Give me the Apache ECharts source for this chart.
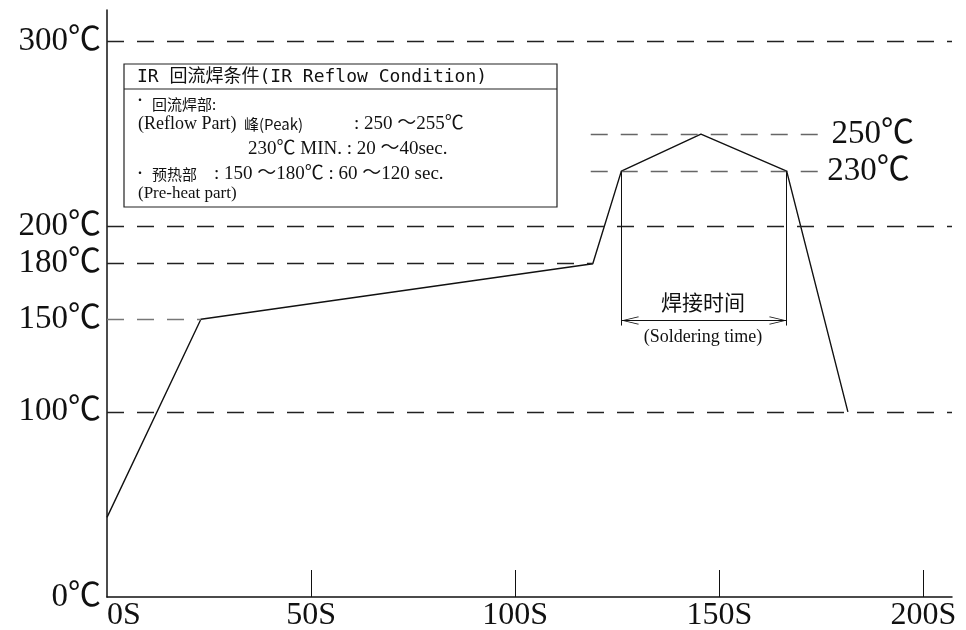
<!DOCTYPE html>
<html>
<head>
<meta charset="utf-8">
<style>
  html, body { margin: 0; padding: 0; background: #fff; }
  #chart { width: 966px; height: 630px; }
</style>
<script src="https://cdn.jsdelivr.net/npm/echarts@6.0.0/dist/echarts.min.js"></script>
</head>
<body>
<div id="chart"></div>
<script>
  // 回流焊温度曲线：时间(s) / 温度(℃)
  const timeS = [0, 23, 119, 126, 145.5, 166.5, 181.5];
  const tempC = [43, 150, 180, 230, 250, 230, 100];

  // 坐标轴刻度
  const yLabels = [0, 100, 150, 180, 200, 300];
  const xLabels = [0, 50, 100, 150, 200];
  const xTicks = [50, 100, 150, 200];

  // 左侧虚线：温度 / 起止时间
  const guideTemps = [300, 200, 180, 150, 100];
  const guideFrom = [0, 0, 0, 0, 0];
  const guideTo = [207, 207, 119, 23, 207];

  // 峰值区虚线（右侧标注）
  const peakTemps = [250, 230];
  const peakFrom = [118.5, 118.5];
  const peakTo = [176, 175];

  // 焊接时间区间
  const solderStart = 126;
  const solderEnd = 166.5;
  const solderTop = 230;
  const solderBottom = 146.6;
  const solderArrow = 149.3;
  const solderLabelTime = 146;
  const solderLabelTemps = [159.3, 140];

  const serif = "'Liberation Serif', 'Noto Sans CJK SC', serif";
  const cjk = "'Noto Sans CJK SC', sans-serif";
  const mono = "'DejaVu Sans Mono', 'Noto Sans CJK SC', monospace";

  const chart = echarts.init(document.getElementById('chart'));

  const markLines = [];
  guideTemps.forEach((t, i) => {
    markLines.push([
      { coord: [guideFrom[i], t], lineStyle: { color: t === 150 ? '#777' : '#222' } },
      { coord: [guideTo[i], t] }
    ]);
  });
  peakTemps.forEach((t, i) => {
    markLines.push([
      {
        coord: [peakFrom[i], t],
        lineStyle: { color: '#666' },
        label: {
          show: true, position: 'end', distance: 6,
          formatter: t + '℃', fontSize: 33, fontFamily: serif, color: '#111'
        }
      },
      { coord: [peakTo[i], t] }
    ]);
  });
  // 焊接时间的两条竖线和双向箭头
  [solderStart, solderEnd].forEach((x) => {
    markLines.push([
      { coord: [x, solderTop], lineStyle: { type: 'solid', color: '#111', width: 1 } },
      { coord: [x, solderBottom] }
    ]);
  });
  const chevron = 'path://M5,-10L5.01,-10L5,-10Z M5,0 L10,9.2 L9.4,10 L5,1.8 L0.6,10 L0,9.2 Z';
  markLines.push([
    {
      coord: [solderStart, solderArrow],
      symbol: chevron,
      lineStyle: { type: 'solid', color: '#111', width: 1 }
    },
    { coord: [solderEnd, solderArrow], symbol: chevron }
  ]);

  const option = {
    animation: false,
    grid: { left: 107, right: 14, top: 10, bottom: 33, outerBoundsMode: 'none' },
    xAxis: {
      type: 'value',
      min: 0,
      max: 207,
      interval: 50,
      axisLine: { lineStyle: { color: '#111', width: 1.5 } },
      axisTick: {
        show: true, inside: true, length: 27, customValues: xTicks,
        lineStyle: { color: '#111', width: 1 }
      },
      splitLine: { show: false },
      axisLabel: {
        customValues: xLabels,
        formatter: '{value}S',
        alignMinLabel: 'left',
        margin: 3,
        fontSize: 32,
        fontFamily: serif,
        color: '#111'
      }
    },
    yAxis: {
      type: 'value',
      min: 0,
      max: 317,
      axisLine: { show: true, lineStyle: { color: '#111', width: 1.5 } },
      axisTick: { show: false },
      splitLine: { show: false },
      axisLabel: {
        customValues: yLabels,
        formatter: '{value}℃',
        margin: 6,
        fontSize: 33,
        fontFamily: serif,
        color: '#111'
      }
    },
    series: [
      {
        type: 'line',
        data: timeS.map((t, i) => [t, tempC[i]]),
        symbol: 'none',
        silent: true,
        lineStyle: { color: '#111', width: 1.4 },
        markLine: {
          silent: true,
          symbol: ['none', 'none'],
          symbolSize: [8, 36],
          label: { show: false },
          emphasis: { disabled: true },
          lineStyle: { type: [17, 13], width: 1.3, color: '#222' },
          data: markLines
        },
        markPoint: {
          silent: true,
          symbol: 'circle',
          symbolSize: 0,
          data: [
            {
              coord: [solderLabelTime, solderLabelTemps[0]],
              label: { show: true, formatter: '焊接时间', fontSize: 21, fontFamily: cjk, color: '#111' }
            },
            {
              coord: [solderLabelTime, solderLabelTemps[1]],
              label: { show: true, formatter: '(Soldering time)', fontSize: 18, fontFamily: serif, color: '#111' }
            }
          ]
        }
      }
    ],
    graphic: [
      {
        type: 'group',
        silent: true,
        children: [
          { type: 'rect', shape: { x: 124, y: 64, width: 433, height: 143 }, style: { fill: '#fff', stroke: '#222', lineWidth: 1.2 } },
          { type: 'line', shape: { x1: 124, y1: 89, x2: 557, y2: 89 }, style: { stroke: '#222', lineWidth: 1.2 } },
          { type: 'text', style: { x: 137, y: 77, text: 'IR 回流焊条件(IR Reflow Condition)', font: '18px ' + mono, fill: '#111', verticalAlign: 'middle' } },
          { type: 'text', style: { x: 134, y: 100, text: '•', font: '12px ' + cjk, fill: '#111', verticalAlign: 'middle' } },
          { type: 'text', style: { x: 152, y: 104, text: '回流焊部:', font: '15px ' + cjk, fill: '#111', verticalAlign: 'middle' } },
          { type: 'text', style: { x: 138, y: 124, text: '(Reflow Part)', font: '18px ' + serif, fill: '#111', verticalAlign: 'middle' } },
          { type: 'text', style: { x: 244, y: 124, text: '峰(Peak)', font: '15px ' + cjk, fill: '#111', verticalAlign: 'middle' } },
          { type: 'text', style: { x: 354, y: 124, text: ': 250 ～255℃', font: '19px ' + serif, fill: '#111', verticalAlign: 'middle' } },
          { type: 'text', style: { x: 248, y: 149, text: '230℃ MIN. : 20 ～40sec.', font: '19px ' + serif, fill: '#111', verticalAlign: 'middle' } },
          { type: 'text', style: { x: 134, y: 173, text: '•', font: '12px ' + cjk, fill: '#111', verticalAlign: 'middle' } },
          { type: 'text', style: { x: 152, y: 174, text: '预热部', font: '15px ' + cjk, fill: '#111', verticalAlign: 'middle' } },
          { type: 'text', style: { x: 214, y: 174, text: ': 150 ～180℃ : 60 ～120 sec.', font: '19px ' + serif, fill: '#111', verticalAlign: 'middle' } },
          { type: 'text', style: { x: 138, y: 194, text: '(Pre-heat part)', font: '17px ' + serif, fill: '#111', verticalAlign: 'middle' } }
        ]
      }
    ]
  };

  chart.setOption(option);
</script>
</body>
</html>
